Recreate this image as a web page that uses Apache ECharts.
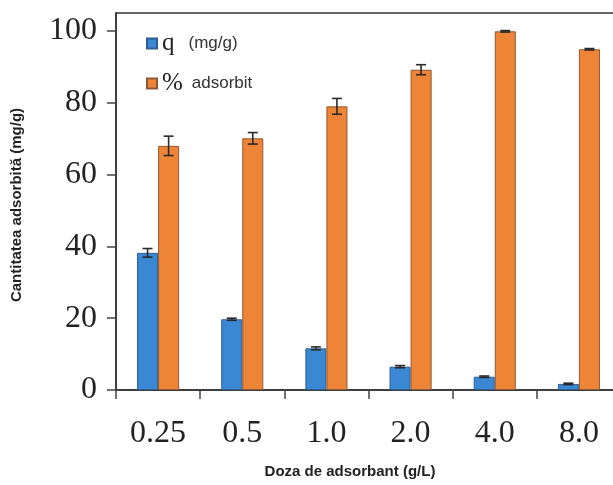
<!DOCTYPE html>
<html>
<head>
<meta charset="utf-8">
<script src="https://cdn.jsdelivr.net/npm/echarts@6/dist/echarts.min.js"></script>
<style>html,body{margin:0;padding:0;background:#fff}#c{width:613px;height:485px}</style>
</head>
<body>
<div id="c"></div>
<script>
var categories = ['0.25', '0.5', '1.0', '2.0', '4.0', '8.0'];
var qValues = [38.2, 19.7, 11.6, 6.5, 3.7, 1.7];
var qErrors = [1.2, 0.3, 0.4, 0.3, 0.2, 0.2];
var pctValues = [68.0, 70.1, 79.0, 89.2, 99.9, 94.9];
var pctErrors = [2.7, 1.6, 2.2, 1.4, 0.2, 0.2];
var yTicks = [0, 20, 40, 60, 80, 100];

var chart = echarts.init(document.getElementById('c'), null, {renderer: 'canvas'});

function errData(vals, errs) {
  return vals.map(function (v, i) { return [i, v - errs[i], v + errs[i]]; });
}
function errRender(side) {
  return function (params, api) {
    var x = api.value(0);
    var lo = api.coord([x, api.value(1)]);
    var hi = api.coord([x, api.value(2)]);
    var band = api.size([1, 0])[0];
    var cx = lo[0] + side * band / 8;
    var hw = 5;
    var st = {stroke: '#2a2a2a', lineWidth: 1.6};
    return {
      type: 'group',
      children: [
        {type: 'line', shape: {x1: cx, y1: lo[1], x2: cx, y2: hi[1]}, style: st},
        {type: 'line', shape: {x1: cx - hw, y1: lo[1], x2: cx + hw, y2: lo[1]}, style: st},
        {type: 'line', shape: {x1: cx - hw, y1: hi[1], x2: cx + hw, y2: hi[1]}, style: st}
      ]
    };
  };
}

var option = {
  animation: false,
  grid: {left: 116, top: 13, width: 505, height: 377, outerBoundsMode: 'none', containLabel: false,
    show: true, borderColor: '#333', borderWidth: 1.5, backgroundColor: 'transparent'},
  legend: {
    orient: 'vertical',
    left: 141,
    top: 26,
    itemWidth: 10,
    itemHeight: 10,
    itemGap: 15,
    icon: 'rect',
    data: ['q', '%'],
    formatter: function (name) {
      return name === 'q' ? '{big|q}{sp1| }{small|(mg/g)}' : '{big|%}{sp2| }{small|adsorbit}';
    },
    textStyle: {
      rich: {
        big: {fontFamily: 'Liberation Serif', fontSize: 25, color: '#222', lineHeight: 26, verticalAlign: 'middle'},
        sp1: {fontSize: 14, width: 14, lineHeight: 26},
        sp2: {fontSize: 14, width: 9, lineHeight: 26},
        small: {fontFamily: 'Liberation Sans', fontSize: 17, color: '#333', lineHeight: 26, verticalAlign: 'middle'}
      }
    }
  },
  xAxis: {
    type: 'category',
    data: categories,
    boundaryGap: true,
    axisLine: {lineStyle: {color: '#333', width: 1.5}},
    axisTick: {show: true, length: 9, lineStyle: {color: '#444', width: 1.5}},
    axisLabel: {fontFamily: 'Liberation Serif', fontSize: 32, color: '#222', margin: 28}
  },
  yAxis: {
    type: 'value',
    min: 0,
    max: 105,
    interval: 20,
    splitLine: {show: false},
    axisLine: {show: true, lineStyle: {color: '#333', width: 1.5}},
    axisTick: {show: true, length: 9, customValues: yTicks, lineStyle: {color: '#444', width: 1.5}},
    axisLabel: {fontFamily: 'Liberation Serif', fontSize: 32, color: '#222', margin: 19, customValues: yTicks}
  },
  graphic: [
    {type: 'text', x: 9, y: 205, rotation: Math.PI / 2,
      style: {text: 'Cantitatea adsorbită (mg/g)', font: 'bold 15px "Liberation Sans"', fill: '#222', align: 'center', verticalAlign: 'top'}},
    {type: 'text', x: 350, y: 464,
      style: {text: 'Doza de adsorbant (g/L)', font: 'bold 15px "Liberation Sans"', fill: '#222', align: 'center', verticalAlign: 'top'}}
  ],
  series: [
    {name: 'q', type: 'bar', data: qValues, barGap: '0%', barCategoryGap: '50%',
      itemStyle: {color: '#3a87d4', borderColor: '#2f5f92', borderWidth: 1}},
    {name: '%', type: 'bar', data: pctValues,
      itemStyle: {color: '#ee8536', borderColor: '#8f5a35', borderWidth: 1}},
    {type: 'custom', data: errData(qValues, qErrors), renderItem: errRender(-1), z: 5,
      encode: {x: 0, y: [1, 2]}},
    {type: 'custom', data: errData(pctValues, pctErrors), renderItem: errRender(1), z: 5,
      encode: {x: 0, y: [1, 2]}}
  ]
};
chart.setOption(option);
</script>
</body>
</html>
